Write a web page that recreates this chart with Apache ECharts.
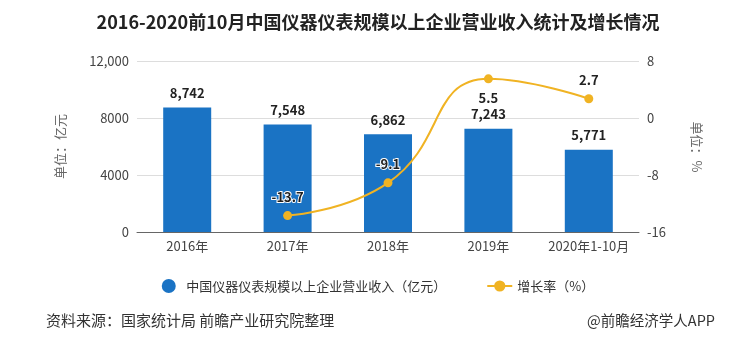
<!DOCTYPE html>
<html><head><meta charset="utf-8">
<script src="https://cdn.jsdelivr.net/npm/echarts@6/dist/echarts.min.js"></script>
<style>html,body{margin:0;padding:0;background:#fff}#c{width:756px;height:346px}</style>
</head><body><div id="c"></div>
<script>
const categories = ['2016年','2017年','2018年','2019年','2020年1-10月'];
const revenue = [8742, 7548, 6862, 7243, 5771];
const growth = [null, -13.7, -9.1, 5.5, 2.7];
const leftTicks = [0, 4000, 8000, 12000];
const rightTicks = [-16, -8, 0, 8];

const chart = echarts.init(document.getElementById('c'));
const font = '"Noto Sans CJK SC", "Noto Sans", sans-serif';
chart.setOption({
  animation: false,
  textStyle: {fontFamily: font},
  title: {
    text: '2016-2020前10月中国仪器仪表规模以上企业营业收入统计及增长情况',
    left: 'center', top: 8,
    textStyle: {fontSize: 18, fontWeight: 'bold', color: '#222', fontFamily: font}
  },
  graphic: [
    {type: 'text', left: 46, top: 313, style: {text: '资料来源：国家统计局 前瞻产业研究院整理', fontSize: 15, fill: '#333', fontFamily: font}},
    {type: 'text', right: 41, top: 313, style: {text: '@前瞻经济学人APP', fontSize: 14.5, fill: '#333', fontFamily: font}},
    {type: 'text', x: 697, y: 147, rotation: -Math.PI / 2,
      style: {text: '单位：%', fontSize: 13, fill: '#666', fontFamily: font, align: 'center', verticalAlign: 'middle'}}
  ],
  legend: {
    top: 274, left: 'center', itemGap: 40,
    textStyle: {fontSize: 13, color: '#333', fontFamily: font},
    data: [
      {name: '中国仪器仪表规模以上企业营业收入（亿元）', icon: 'circle'},
      {name: '增长率（%）'}
    ]
  },
  grid: {left: 137, right: 117, top: 61, bottom: 114},
  xAxis: {
    type: 'category', data: categories,
    axisTick: {alignWithLabel: true, lineStyle: {color: '#666'}},
    axisLine: {lineStyle: {color: '#666'}},
    axisLabel: {color: '#444', fontSize: 13, margin: 8, interval: 0}
  },
  yAxis: [
    {
      type: 'value', min: 0, max: 12000, interval: 4000,
      name: '单位：亿元', nameLocation: 'middle', nameGap: 70, nameRotate: 90,
      nameTextStyle: {color: '#666', fontSize: 13},
      axisLabel: {color: '#444', fontSize: 13, formatter: v => v === 12000 ? '12,000' : String(v)},
      splitLine: {lineStyle: {color: '#ddd'}},
      axisLine: {show: false}, axisTick: {show: false}
    },
    {
      type: 'value', min: -16, max: 8, interval: 8,
      axisLabel: {color: '#444', fontSize: 13},
      splitLine: {show: false},
      axisLine: {show: false}, axisTick: {show: false}
    }
  ],
  series: [
    {
      name: '中国仪器仪表规模以上企业营业收入（亿元）', type: 'bar', data: revenue,
      barWidth: 48, itemStyle: {color: '#1a73c4'},
      label: {show: true, position: 'top', distance: 8, color: '#222', fontWeight: 'bold', fontSize: 13,
        formatter: p => p.value.toLocaleString('en-US')}
    },
    {
      name: '增长率（%）', type: 'line', yAxisIndex: 1, data: growth, smooth: true,
      symbol: 'circle', symbolSize: 9,
      lineStyle: {color: '#f0b323', width: 2}, itemStyle: {color: '#f0b323'},
      label: {show: true, fontWeight: 'bold', fontSize: 13, color: '#222',
        textBorderColor: '#fff', textBorderWidth: 2,
        position: 'top', distance: 8}
    }
  ]
});
chart.setOption({series: [{}, {data: growth.map((v, i) => v === null ? null : (i === 3 ? {value: v, label: {position: 'bottom'}} : v))}]});
</script></body></html>
